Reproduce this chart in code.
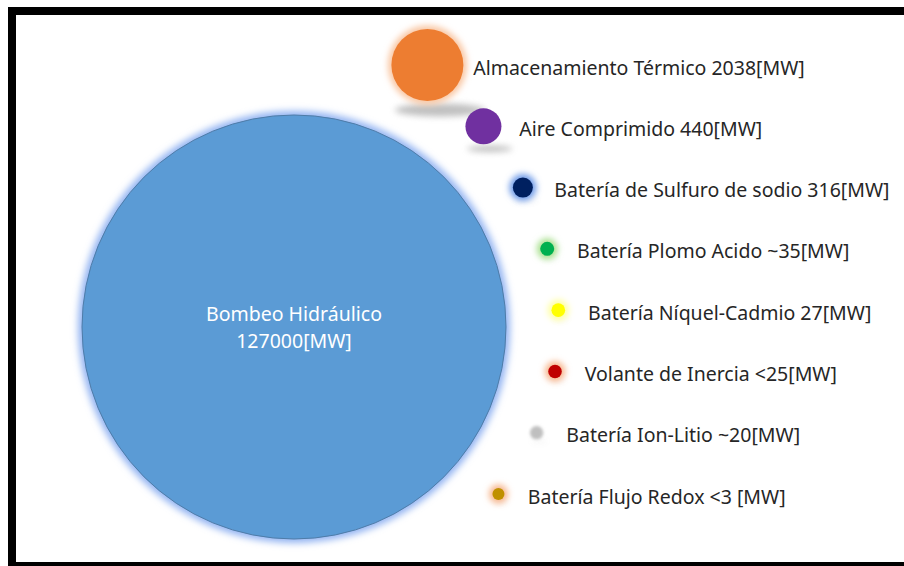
<!DOCTYPE html>
<html>
<head>
<meta charset="utf-8">
<script src="https://cdn.jsdelivr.net/npm/d3@7"></script>
<style>
  body { margin: 0; background: #fff; }
  text { font-family: "Noto Sans", sans-serif; }
</style>
</head>
<body>
<div id="chart"></div>
<script>
const names = [
  "Bombeo Hidráulico",
  "Almacenamiento Térmico",
  "Aire Comprimido",
  "Batería de Sulfuro de sodio",
  "Batería Plomo Acido",
  "Batería Níquel-Cadmio",
  "Volante de Inercia",
  "Batería Ion-Litio",
  "Batería Flujo Redox",
];
const values = [127000, 2038, 440, 316, 35, 27, 25, 20, 3];
const valueText = ["127000", "2038", "440", "316", "~35", "27", "<25", "~20", "<3 "];

const fillColors = ["#5B9BD5", "#ED7D31", "#7030A0", "#002060", "#00B050", "#FFFF00", "#C00000", "#BFBFBF", "#BF9000"];
const glowColors = ["#93B4F2", "#F9C6A2", null, "#6F9BE8", "#A8E08E", "#FFFF9E", "#F7B58C", null, "#F7B58C"];

const width = 904;
const height = 566;

const data = names.map((name, i) => ({
  name,
  value: values[i],
  label: name + " " + valueText[i] + "[MW]",
  fill: fillColors[i],
  glow: glowColors[i],
}));

const svg = d3
  .select("#chart")
  .append("svg")
  .attr("width", width)
  .attr("height", height);

const defs = svg.append("defs");
defs.append("filter").attr("id", "glow").attr("x", "-50%").attr("y", "-50%").attr("width", "200%").attr("height", "200%")
  .append("feGaussianBlur").attr("stdDeviation", 3);
defs.append("filter").attr("id", "glowBig").attr("x", "-20%").attr("y", "-20%").attr("width", "140%").attr("height", "140%")
  .append("feGaussianBlur").attr("stdDeviation", 3.5);
defs.append("filter").attr("id", "shadow").attr("x", "-50%").attr("y", "-200%").attr("width", "200%").attr("height", "500%")
  .append("feGaussianBlur").attr("stdDeviation", 3);
defs.append("filter").attr("id", "soft").attr("x", "-50%").attr("y", "-50%").attr("width", "200%").attr("height", "200%")
  .append("feGaussianBlur").attr("stdDeviation", 1.6);

// frame
svg
  .append("rect")
  .attr("x", 12)
  .attr("y", 11)
  .attr("width", width + 20)
  .attr("height", 555)
  .attr("fill", "#fff")
  .attr("stroke", "#000")
  .attr("stroke-width", 8);

// sizes are not strictly proportional in the original, so a piecewise sqrt scale
const rScale = d3
  .scaleSqrt()
  .domain([3, 35, 316, 440, 2038, 127000])
  .range([6, 7, 10, 18, 36, 212]);

const big = data[0];
const small = data.slice(1);
const cx = 294;
const cy = 327;
const R = rScale(big.value);
const gap = 46;

const yScale = d3
  .scalePoint()
  .domain(small.map((d) => d.name))
  .range([65, 494]);

small.forEach((d) => {
  d.r = rScale(d.value);
  d.y = yScale(d.name);
  const dist = R + gap + d.r;
  d.x = cx + Math.sqrt(dist * dist - (d.y - cy) * (d.y - cy));
});

// big circle
svg
  .append("circle")
  .attr("cx", cx)
  .attr("cy", cy)
  .attr("r", R + 4)
  .attr("fill", big.glow)
  .attr("filter", "url(#glowBig)");

svg
  .append("circle")
  .attr("cx", cx)
  .attr("cy", cy)
  .attr("r", R)
  .attr("fill", big.fill)
  .attr("stroke", "#4F7CA8")
  .attr("stroke-width", 1);

svg
  .append("text")
  .attr("x", cx)
  .attr("y", cy - 14)
  .attr("text-anchor", "middle")
  .attr("dominant-baseline", "central")
  .attr("fill", "#fff")
  .style("font-size", "19.5px")
  .text(big.name);

svg
  .append("text")
  .attr("x", cx)
  .attr("y", cy + 13)
  .attr("text-anchor", "middle")
  .attr("dominant-baseline", "central")
  .attr("fill", "#fff")
  .style("font-size", "19.5px")
  .text(valueText[0] + "[MW]");

// shadows
svg
  .selectAll(".shadow")
  .data(small)
  .enter()
  .append("ellipse")
  .attr("class", "shadow")
  .attr("cx", (d) => d.x + d.r * 0.35)
  .attr("cy", (d) => d.y + d.r * 1.25)
  .attr("rx", (d) => d.r * 1.25)
  .attr("ry", (d) => Math.max(2, d.r * 0.18))
  .attr("fill", "#8c8c8c")
  .attr("opacity", (d) => (d.r > 15 ? 0.55 : 0.08))
  .attr("filter", "url(#shadow)");

// glows
svg
  .selectAll(".glow")
  .data(small.filter((d) => d.glow))
  .enter()
  .append("circle")
  .attr("class", "glow")
  .attr("cx", (d) => d.x)
  .attr("cy", (d) => d.y)
  .attr("r", (d) => d.r + 3.5)
  .attr("fill", (d) => d.glow)
  .attr("filter", "url(#glow)");

svg
  .selectAll(".dot")
  .data(small)
  .enter()
  .append("circle")
  .attr("class", "dot")
  .attr("cx", (d) => d.x)
  .attr("cy", (d) => d.y)
  .attr("r", (d) => d.r)
  .attr("fill", (d) => d.fill)
  .attr("filter", (d) => (d.glow ? null : d.r < 10 ? "url(#soft)" : null));

svg
  .selectAll(".label")
  .data(small)
  .enter()
  .append("text")
  .attr("class", "label")
  .attr("x", (d) => d.x + d.r * 0.55 + 26)
  .attr("y", (d) => d.y + 2)
  .attr("dominant-baseline", "central")
  .attr("fill", "#262626")
  .style("font-size", "19.5px")
  .text((d) => d.label);
</script>
</body>
</html>
